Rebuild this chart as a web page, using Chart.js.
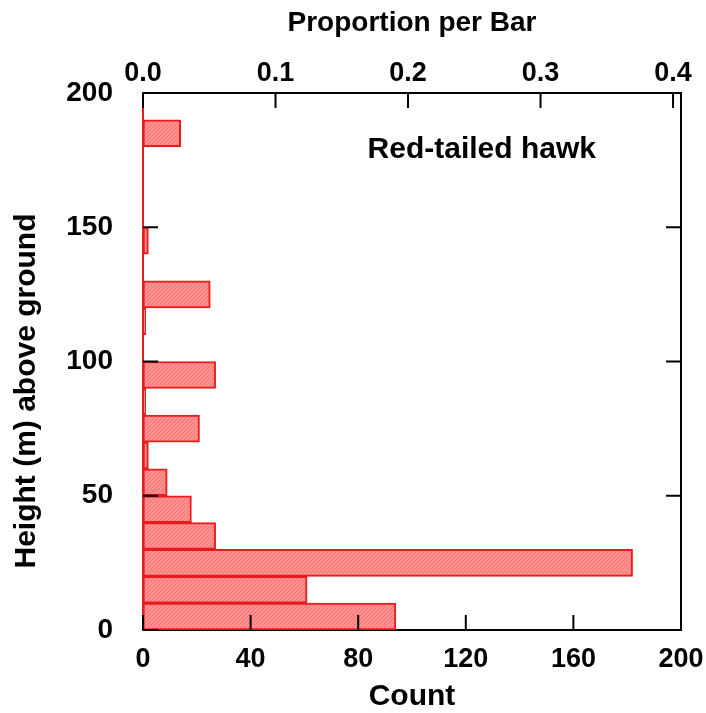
<!DOCTYPE html>
<html>
<head>
<meta charset="utf-8">
<script src="https://cdn.jsdelivr.net/npm/chart.js@4.4.1/dist/chart.umd.min.js"></script>
<style>
  html, body { margin: 0; padding: 0; background: #fff; }
  #wrap { width: 706px; height: 713px; }
</style>
</head>
<body>
<div id="wrap"><canvas id="hist"></canvas></div>
<script>
// height bins (m), lower edges, 10 m wide
var binStarts = [0, 10, 20, 30, 40, 50, 60, 70, 80, 90, 100, 110, 120, 130, 140, 150, 160, 170, 180, 190];
// red-tailed hawk counts per bin
var counts = [94, 61, 182, 27, 18, 9, 2, 21, 1, 27, 0, 1, 25, 0, 2, 0, 0, 0, 14, 0];
var countTicks = [0, 40, 80, 120, 160, 200];
var heightTicks = [0, 50, 100, 150, 200];
var proportionTicks = [0, 0.1, 0.2, 0.3, 0.4];
// proportion at the right edge of the frame (count 200)
var proportionMax = 0.406;
var speciesLabel = 'Red-tailed hawk';

var FONT = 'Liberation Sans, Arial, Helvetica, sans-serif';

function hatch() {
	var c = document.createElement('canvas');
	c.width = 4; c.height = 4;
	var g = c.getContext('2d');
	g.fillStyle = 'rgb(255,145,145)';
	g.fillRect(0, 0, 4, 4);
	g.strokeStyle = 'rgb(245,112,112)';
	g.lineWidth = 1;
	g.beginPath();
	g.moveTo(0, 4); g.lineTo(4, 0);
	g.stroke();
	return g.createPattern(c, 'repeat');
}

var barData = [];
for (var i = 0; i < binStarts.length; i++) {
	barData.push({ x: counts[i], y: binStarts[i] + 5 });
}

function fixed(list) {
	return function (scale) {
		scale.ticks = list.map(function (v) { return { value: v }; });
	};
}

function fitHeight(h) {
	return function (scale) {
		scale.height = h;
		scale.paddingLeft = 0;
		scale.paddingRight = 0;
	};
}

// inward ticks on all four sides, right frame line, species label, y title
var frameTicks = {
	id: 'frameTicks',
	afterDraw: function (chart) {
		var ctx = chart.ctx, a = chart.chartArea, s = chart.scales;
		var len = 15;
		ctx.save();
		ctx.strokeStyle = '#000';
		ctx.lineWidth = 2;
		ctx.beginPath();
		ctx.moveTo(a.right, a.top - 1); ctx.lineTo(a.right, a.bottom + 1);
		s.x.ticks.forEach(function (t) {
			var px = s.x.getPixelForValue(t.value);
			ctx.moveTo(px, a.bottom); ctx.lineTo(px, a.bottom - len);
		});
		s.x2.ticks.forEach(function (t) {
			var px = s.x2.getPixelForValue(t.value);
			ctx.moveTo(px, a.top); ctx.lineTo(px, a.top + len);
		});
		s.y.ticks.forEach(function (t) {
			var py = s.y.getPixelForValue(t.value);
			ctx.moveTo(a.left, py); ctx.lineTo(a.left + len, py);
			ctx.moveTo(a.right, py); ctx.lineTo(a.right - len, py);
		});
		ctx.stroke();

		ctx.fillStyle = '#000';
		ctx.font = 'bold 30px ' + FONT;
		ctx.textAlign = 'left';
		ctx.textBaseline = 'middle';
		ctx.fillText(speciesLabel, s.x.getPixelForValue(83.5), s.y.getPixelForValue(179));

		ctx.translate(27, 391);
		ctx.rotate(-Math.PI / 2);
		ctx.textAlign = 'center';
		ctx.fillText('Height (m) above ground', 0, 0);
		ctx.restore();
	}
};

new Chart(document.getElementById('hist'), {
	type: 'bar',
	data: {
		datasets: [{
			data: barData,
			backgroundColor: hatch(),
			borderColor: 'rgb(232,28,28)',
			borderWidth: 2,
			borderSkipped: false,
			categoryPercentage: 1,
			barPercentage: 1
		}]
	},
	options: {
		indexAxis: 'y',
		responsive: true,
		maintainAspectRatio: false,
		animation: false,
		layout: { padding: { right: 25 } },
		plugins: { legend: { display: false }, tooltip: { enabled: false } },
		scales: {
			x: {
				type: 'linear',
				position: 'bottom',
				min: 0, max: 200,
				afterBuildTicks: fixed(countTicks),
				afterFit: fitHeight(83),
				grid: { display: false, drawTicks: false },
				border: { display: true, color: '#000', width: 2 },
				ticks: { color: '#000', padding: 13, maxRotation: 0, font: { family: FONT, size: 27, weight: 'bold' } },
				title: { display: true, text: 'Count', color: '#000', padding: 0, font: { family: FONT, size: 30, weight: 'bold', lineHeight: 1.1 } }
			},
			x2: {
				type: 'linear',
				position: 'top',
				display: true,
				min: 0, max: proportionMax,
				afterBuildTicks: fixed(proportionTicks),
				afterFit: fitHeight(93),
				grid: { display: false, drawTicks: false },
				border: { display: true, color: '#000', width: 2 },
				ticks: { color: '#000', padding: 3, maxRotation: 0, font: { family: FONT, size: 27, weight: 'bold' },
					callback: function (v) { return v.toFixed(1); } },
				title: { display: true, text: 'Proportion per Bar', color: '#000', padding: { top: 6, bottom: 0 }, font: { family: FONT, size: 28, weight: 'bold' } }
			},
			y: {
				type: 'linear',
				position: 'left',
				offset: false,
				min: 0, max: 200,
				afterBuildTicks: fixed(heightTicks),
				afterFit: function (scale) { scale.width = 143; },
				grid: { display: false, drawTicks: false, offset: false },
				border: { display: true, color: 'rgb(232,28,28)', width: 2 },
				ticks: { color: '#000', padding: 30, font: { family: FONT, size: 28, weight: 'bold' } }
			}
		}
	},
	plugins: [frameTicks]
});
</script>
</body>
</html>
